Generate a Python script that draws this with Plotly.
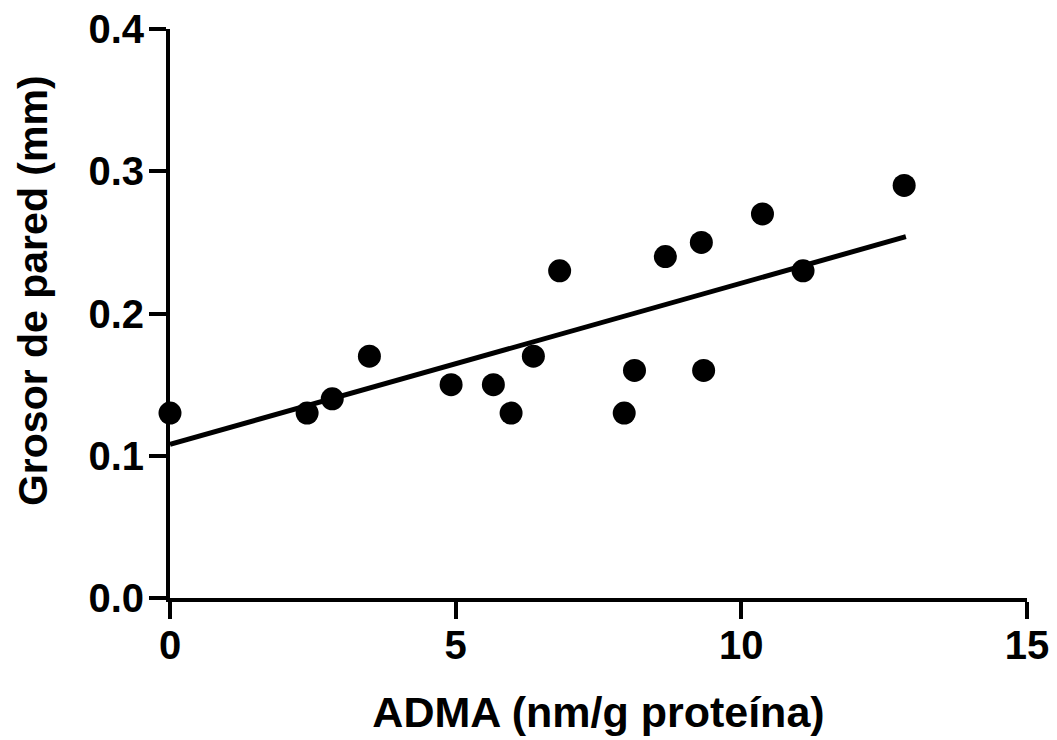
import plotly.graph_objects as go

# datos
adma = [0, 2.40, 2.84, 3.49, 4.92, 5.66, 5.97, 6.36, 6.82, 7.95, 8.13, 8.67, 9.30, 9.34, 10.37, 11.08, 12.85]
grosor = [0.13, 0.13, 0.14, 0.17, 0.15, 0.15, 0.13, 0.17, 0.23, 0.13, 0.16, 0.24, 0.25, 0.16, 0.27, 0.23, 0.29]

# recta de regresion (extremos leidos)
recta_x = [0, 12.88]
recta_y = [0.108, 0.254]

x_ticks = [0, 5, 10, 15]
y_ticks = [0.0, 0.1, 0.2, 0.3, 0.4]

fuente = "Liberation Sans, Arial, sans-serif"

fig = go.Figure()
fig.add_trace(go.Scatter(
    x=recta_x, y=recta_y, mode="lines",
    line=dict(color="black", width=5),
    cliponaxis=False, showlegend=False,
))
fig.add_trace(go.Scatter(
    x=adma, y=grosor, mode="markers",
    marker=dict(color="black", size=23, line=dict(width=0)),
    cliponaxis=False, showlegend=False,
))

eje = dict(
    showgrid=False, zeroline=False,
    showline=True, linecolor="black", linewidth=4,
    ticks="outside", ticklen=17, tickwidth=4, tickcolor="black",
    tickfont=dict(family=fuente, size=40, color="black", weight="bold"),
    ticklabeloverflow="allow", automargin=False,
)

fig.update_xaxes(
    **eje, range=[0, 15], tickvals=x_ticks, ticktext=[str(v) for v in x_ticks],
    ticklabelstandoff=-8,
    title=dict(text="<b>ADMA (nm/g proteína)</b>", standoff=32,
               font=dict(family=fuente, size=43, color="black")),
)
fig.update_yaxes(
    **eje, range=[0, 0.4], tickvals=y_ticks, ticktext=[f"{v:.1f}" for v in y_ticks],
    ticklabelstandoff=-3,
)

# titulo del eje y como anotacion para situarlo igual que en la original
fig.add_annotation(
    text="<b>Grosor de pared (mm)</b>", textangle=-90,
    xref="paper", yref="paper", x=-0.16, y=0.541,
    xanchor="center", yanchor="middle", showarrow=False,
    font=dict(family=fuente, size=41, color="black"),
)

fig.update_layout(
    width=1057, height=740,
    margin=dict(l=162, r=38, t=21, b=150),
    plot_bgcolor="white", paper_bgcolor="white",
)

fig.write_html("out.html")
